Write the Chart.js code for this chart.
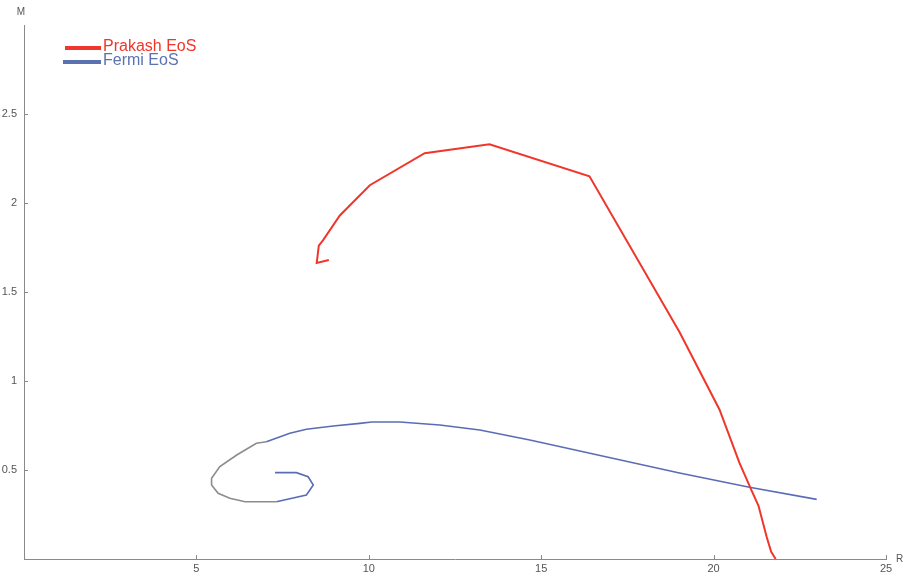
<!DOCTYPE html>
<html>
<head>
<meta charset="utf-8">
<script src="https://cdn.jsdelivr.net/npm/chart.js@4"></script>
<style>
  html, body { margin: 0; padding: 0; background: #fff; }
  #wrap { width: 904px; height: 576px; }
</style>
</head>
<body>
<div id="wrap"><canvas id="massRadiusChart"></canvas></div>
<script>
// Prakash EoS branch (R in km, M in solar masses)
const prakashR = [8.84, 8.49, 8.55, 8.67, 9.16, 10.03, 11.62, 13.5, 16.4, 19.01, 20.17, 20.75, 21.09, 21.3, 21.54, 21.67, 21.8];
const prakashM = [1.68, 1.663, 1.76, 1.79, 1.93, 2.10, 2.28, 2.33, 2.15, 1.275, 0.84, 0.54, 0.39, 0.30, 0.124, 0.04, 0.0];

// Fermi EoS branch
const fermiR = [7.28, 7.90, 8.24, 8.39, 8.19, 7.32, 6.41, 5.97, 5.63, 5.44, 5.44, 5.68, 6.17, 6.74, 7.03, 7.71, 8.19, 8.97, 9.74, 10.09, 10.9, 12.06, 13.22, 14.67, 19.01, 21.04, 22.99];
const fermiM = [0.485, 0.485, 0.462, 0.416, 0.36, 0.322, 0.322, 0.341, 0.369, 0.416, 0.453, 0.519, 0.584, 0.65, 0.659, 0.706, 0.729, 0.747, 0.762, 0.77, 0.77, 0.753, 0.725, 0.669, 0.483, 0.403, 0.335];

const xTicks = [5, 10, 15, 20, 25];
const yTicks = [0.5, 1, 1.5, 2, 2.5];

const RED = '#f0362b';
const BLUE = '#5a6cb5';
const GRAY = '#8c8c8c';
const AXIS = '#8a8a8a';

const toPoints = (xs, ys) => xs.map((x, i) => ({ x: x, y: ys[i] }));

// small ticks drawn inside the axes, plus the axis names and the legend
const decorations = {
    id: 'decorations',
    afterDraw(chart) {
        const c = chart.ctx;
        const xs = chart.scales.x, ys = chart.scales.y;
        const area = chart.chartArea;
        c.save();
        c.strokeStyle = AXIS;
        c.lineWidth = 1;
        xTicks.forEach(v => {
            const px = Math.round(xs.getPixelForValue(v)) + 0.5;
            c.beginPath();
            c.moveTo(px, area.bottom);
            c.lineTo(px, area.bottom - 4);
            c.stroke();
        });
        yTicks.forEach(v => {
            const py = Math.round(ys.getPixelForValue(v)) + 0.5;
            c.beginPath();
            c.moveTo(area.left, py);
            c.lineTo(area.left + 4, py);
            c.stroke();
        });

        c.fillStyle = '#555';
        c.font = '10px "Liberation Sans", Arial, sans-serif';
        c.textBaseline = 'middle';
        c.textAlign = 'center';
        c.fillText('M', area.left - 3, 12);
        c.textAlign = 'left';
        c.fillText('R', area.right + 10, area.bottom);

        // legend
        c.font = '16px "Liberation Sans", Arial, sans-serif';
        chart.data.datasets.forEach((ds, i) => {
            const y = 48 + i * 14;
            c.strokeStyle = ds.legendColor;
            c.lineWidth = 4;
            c.beginPath();
            c.moveTo(i === 0 ? 65 : 63, y);
            c.lineTo(101, y);
            c.stroke();
            c.fillStyle = ds.legendColor;
            c.textAlign = 'left';
            c.fillText(ds.label, 103, y - 1);
        });
        c.restore();
    }
};

const ctx1 = document.getElementById('massRadiusChart');

new Chart(ctx1, {
    type: 'scatter',
    data: {
        datasets: [{
            label: 'Prakash EoS',
            data: toPoints(prakashR, prakashM),
            showLine: true,
            borderColor: RED,
            legendColor: RED,
            borderWidth: 2,
            pointRadius: 0,
            tension: 0
        }, {
            label: 'Fermi EoS',
            data: toPoints(fermiR, fermiM),
            showLine: true,
            borderColor: BLUE,
            legendColor: '#5a72b0',
            borderWidth: 1.6,
            pointRadius: 0,
            tension: 0,
            segment: {
                // the unstable spiral part is shaded gray
                borderColor: c => (c.p0DataIndex >= 5 && c.p0DataIndex <= 13) ? GRAY : BLUE
            }
        }]
    },
    options: {
        responsive: true,
        maintainAspectRatio: false,
        animation: false,
        layout: { padding: { left: 0, right: 18, top: 25, bottom: 0 } },
        plugins: {
            legend: { display: false },
            tooltip: { enabled: false }
        },
        scales: {
            x: {
                type: 'linear',
                min: 0,
                max: 25,
                afterFit: s => { s.height = 17; },
                afterBuildTicks: s => { s.ticks = xTicks.map(v => ({ value: v })); },
                grid: { display: false, drawTicks: false },
                border: { display: true, color: AXIS, width: 1 },
                ticks: {
                    padding: 3,
                    color: '#555',
                    callback: v => String(v),
                    font: { family: '"Liberation Sans", Arial, sans-serif', size: 11 }
                }
            },
            y: {
                type: 'linear',
                min: 0,
                max: 3,
                afterFit: s => { s.width = 24; },
                afterBuildTicks: s => { s.ticks = yTicks.map(v => ({ value: v })); },
                grid: { display: false, drawTicks: false },
                border: { display: true, color: AXIS, width: 1 },
                ticks: {
                    padding: 7,
                    color: '#555',
                    callback: v => String(v),
                    font: { family: '"Liberation Sans", Arial, sans-serif', size: 11 }
                }
            }
        }
    },
    plugins: [decorations]
});
</script>
</body>
</html>
